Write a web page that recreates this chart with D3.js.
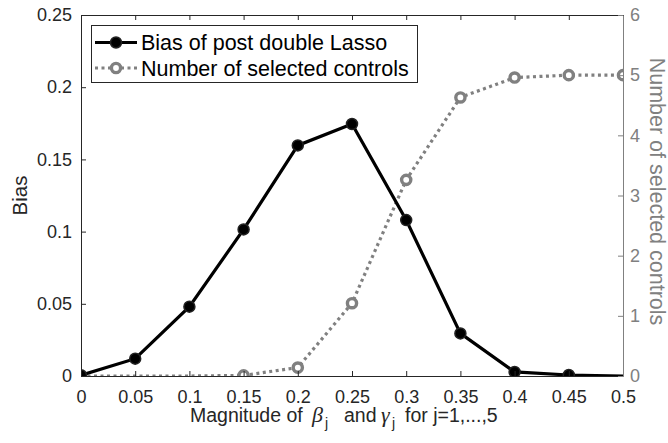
<!DOCTYPE html>
<html><head><meta charset="utf-8">
<script src="https://cdn.jsdelivr.net/npm/d3@7"></script>
<style>body{margin:0;background:#fff}svg{display:block;font-family:"Liberation Sans",Arial,sans-serif}</style>
</head><body><svg id="c" width="668" height="443"></svg>
<script>
const magnitudes = [0, 0.05, 0.1, 0.15, 0.2, 0.25, 0.3, 0.35, 0.4, 0.45, 0.5];
const bias = [0.0005, 0.012, 0.048, 0.1015, 0.1597, 0.1745, 0.108, 0.0295, 0.0028, 0.0007, 0];
const selectedControls = [0, 0, 0, 0.01, 0.14, 1.21, 3.26, 4.63, 4.96, 5.0, 5.0];
const xTicks = [0, 0.05, 0.1, 0.15, 0.2, 0.25, 0.3, 0.35, 0.4, 0.45, 0.5];
const yLeftTicks = [0, 0.05, 0.1, 0.15, 0.2, 0.25];
const yRightTicks = [0, 1, 2, 3, 4, 5, 6];
const legendLabels = ["Bias of post double Lasso", "Number of selected controls"];

(function () {
const svg = d3.select("#c");
const L = 81, R = 623, T = 15, B = 376;
const gray = "#808080";
const x = d3.scaleLinear().domain([0, 0.5]).range([L, R]);
const yL = d3.scaleLinear().domain([0, 0.25]).range([B, T]);
const yR = d3.scaleLinear().domain([0, 6]).range([B, T]);
const fs = 18;

svg.append("defs").append("clipPath").attr("id", "clip")
  .append("rect").attr("x", L).attr("y", T).attr("width", R - L).attr("height", B - T);

const plot = svg.append("g").attr("clip-path", "url(#clip)");

plot.append("path").datum(magnitudes.map((m, i) => [m, selectedControls[i]]))
  .attr("fill", "none").attr("stroke", gray).attr("stroke-width", 3.2)
  .attr("stroke-dasharray", "3,3.5")
  .attr("d", d3.line().x(d => x(d[0])).y(d => yR(d[1])));
plot.selectAll(".gm").data(magnitudes.map((m, i) => [m, selectedControls[i]]).filter(d => d[1] > 0))
  .enter().append("circle")
  .attr("cx", d => x(d[0])).attr("cy", d => yR(d[1])).attr("r", 4.6)
  .attr("fill", "#fff").attr("stroke", gray).attr("stroke-width", 3.4);

plot.append("path").datum(magnitudes.map((m, i) => [m, bias[i]]))
  .attr("fill", "none").attr("stroke", "#000").attr("stroke-width", 3.2)
  .attr("d", d3.line().x(d => x(d[0])).y(d => yL(d[1])));
plot.selectAll(".bm").data(magnitudes.map((m, i) => [m, bias[i]]).filter((d, i) => i < magnitudes.length - 1))
  .enter().append("circle")
  .attr("cx", d => x(d[0])).attr("cy", d => yL(d[1])).attr("r", 5.5)
  .attr("fill", "#000").attr("stroke", "#222").attr("stroke-width", 1.5);

const ax = svg.append("g").attr("font-size", fs);
const axBottom = d3.axisBottom(x).tickValues(xTicks).tickFormat(d => String(+d.toFixed(2))).tickSizeInner(-5).tickSizeOuter(0).tickPadding(14);
const gb = ax.append("g").attr("transform", `translate(0,${B})`).call(axBottom);
const axTop = d3.axisTop(x).tickValues(xTicks).tickFormat("").tickSizeInner(-5).tickSizeOuter(0);
const gt = ax.append("g").attr("transform", `translate(0,${T})`).call(axTop);
const axLeft = d3.axisLeft(yL).tickValues(yLeftTicks).tickFormat(d => String(+d.toFixed(2))).tickSizeInner(-5).tickSizeOuter(0).tickPadding(9);
const gl = ax.append("g").attr("transform", `translate(${L},0)`).call(axLeft);
const axRight = d3.axisRight(yR).tickValues(yRightTicks).tickFormat(d3.format("d")).tickSizeInner(-5).tickSizeOuter(0).tickPadding(7);
const gr = ax.append("g").attr("transform", `translate(${R},0)`).call(axRight);
[gb, gt, gl].forEach(g => {
  g.selectAll("path,line").attr("stroke", "#262626").attr("stroke-width", 1);
  g.selectAll("text").attr("fill", "#262626").attr("font-size", fs).attr("font-family", "Liberation Sans, Arial, sans-serif");
});
gr.selectAll("path,line").attr("stroke", gray).attr("stroke-width", 1);
gr.selectAll("text").attr("fill", gray).attr("font-size", fs).attr("font-family", "Liberation Sans, Arial, sans-serif");
gb.selectAll("text").attr("dy", "0.71em");

svg.append("text").attr("transform", `translate(27,${(T + B) / 2}) rotate(-90)`)
  .attr("text-anchor", "middle").attr("font-size", 20.5).attr("fill", "#262626").text("Bias");
svg.append("text").attr("transform", `translate(650,${(T + B) / 2 - 4}) rotate(90)`)
  .attr("text-anchor", "middle").attr("font-size", 21.5).attr("fill", gray).text("Number of selected controls");

const xl = svg.append("text").attr("y", 422).attr("font-size", 19.5).attr("fill", "#262626");
xl.append("tspan").attr("x", 190).text("Magnitude of");
xl.append("tspan").attr("x", 312).attr("font-family", "Liberation Serif, serif").attr("font-style", "italic").attr("font-size", 22).text("β");
xl.append("tspan").attr("x", 325).attr("font-size", 14).attr("dy", 6).text("j");
xl.append("tspan").attr("x", 344).attr("dy", -6).text("and");
xl.append("tspan").attr("x", 381).attr("font-family", "Liberation Serif, serif").attr("font-style", "italic").attr("font-size", 22).text("γ");
xl.append("tspan").attr("x", 392).attr("font-size", 14).attr("dy", 6).text("j");
xl.append("tspan").attr("x", 405).attr("dy", -6).text("for j=1,...,5");

const lg = svg.append("g");
lg.append("rect").attr("x", 91.5).attr("y", 25.5).attr("width", 326).attr("height", 57)
  .attr("fill", "#fff").attr("stroke", "#262626").attr("stroke-width", 1);
const rows = [42.5, 68];
lg.append("line").attr("x1", 95).attr("x2", 137).attr("y1", rows[0]).attr("y2", rows[0]).attr("stroke", "#000").attr("stroke-width", 3.2);
lg.append("circle").attr("cx", 116).attr("cy", rows[0]).attr("r", 5.5).attr("fill", "#000").attr("stroke", "#222").attr("stroke-width", 1.5);
lg.append("line").attr("x1", 95).attr("x2", 137).attr("y1", rows[1]).attr("y2", rows[1]).attr("stroke", gray).attr("stroke-width", 3.2).attr("stroke-dasharray", "3,3.5");
lg.append("circle").attr("cx", 116).attr("cy", rows[1]).attr("r", 4.6).attr("fill", "#fff").attr("stroke", gray).attr("stroke-width", 3.4);
legendLabels.forEach((t, i) => {
  lg.append("text").attr("x", 141).attr("y", rows[i]).attr("dy", "0.36em").attr("font-size", 21.5)
    .attr("fill", "#000").text(t);
});
})();
</script></body></html>
